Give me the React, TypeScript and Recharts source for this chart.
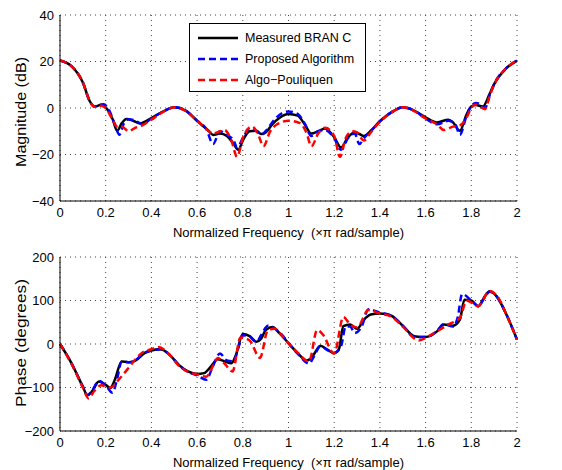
import { LineChart, Line, XAxis, YAxis, CartesianGrid } from "recharts";

// frequency ticks (x pi rad/sample)
const freqTicks = [0, 0.2, 0.4, 0.6, 0.8, 1, 1.2, 1.4, 1.6, 1.8, 2];
const magTicks = [-40, -20, 0, 20, 40];
const phaseTicks = [-200, -100, 0, 100, 200];

// magnitude (dB) — [freq, value]
const magMeasured: [number, number][] = [
  [0, 20.4], [0.05, 18], [0.1, 11], [0.13, 3], [0.15, 0.5], [0.18, 1.4], [0.2, 0.3], [0.23, -4.7],
  [0.25, -9.8], [0.27, -6.6], [0.29, -4.7], [0.32, -5.5], [0.35, -6.6], [0.4, -4.3], [0.45, -1.6],
  [0.5, 0.3], [0.55, -1.1], [0.6, -5.5], [0.65, -9.8], [0.67, -11.6], [0.7, -11], [0.73, -12],
  [0.76, -15.5], [0.78, -18], [0.8, -14], [0.83, -10], [0.86, -9.8], [0.88, -11.2], [0.9, -10.5],
  [0.93, -6.9], [0.96, -4.3], [1.0, -2.6], [1.04, -3.3], [1.07, -6.9], [1.1, -11], [1.13, -10],
  [1.16, -8.8], [1.2, -12.6], [1.23, -17], [1.26, -12.6], [1.29, -10.5], [1.31, -11.2], [1.33, -12],
  [1.36, -9.8], [1.4, -5.7], [1.45, -1.9], [1.5, 0.3], [1.55, -1.1], [1.6, -4], [1.65, -6.2],
  [1.7, -5], [1.72, -6.2], [1.75, -9.8], [1.78, -2.6], [1.8, 0.6], [1.82, 1.3], [1.85, 0.6],
  [1.88, 6], [1.9, 10.3], [1.95, 16.8], [2, 20.4],
];
const magProposed: [number, number][] = [
  [0, 20.4], [0.05, 18], [0.1, 11], [0.13, 3], [0.15, 0.8], [0.19, 1.6], [0.21, 0], [0.24, -7],
  [0.26, -11.5], [0.28, -6.5], [0.3, -4.8], [0.33, -5.5], [0.36, -7], [0.4, -4.5], [0.45, -1.6],
  [0.5, 0.3], [0.55, -1.1], [0.6, -5.5], [0.64, -9], [0.67, -15.5], [0.7, -10], [0.73, -11.5],
  [0.76, -14], [0.775, -17], [0.8, -13], [0.83, -9], [0.86, -10], [0.88, -11.5], [0.9, -10],
  [0.93, -6], [0.96, -3], [1.0, -1.5], [1.04, -2.5], [1.07, -6.5], [1.1, -12], [1.13, -10],
  [1.16, -9.5], [1.2, -13], [1.23, -18], [1.26, -13], [1.29, -11], [1.31, -15.5], [1.33, -13],
  [1.36, -10], [1.4, -5.7], [1.45, -1.9], [1.5, 0.3], [1.55, -1.1], [1.6, -4.5], [1.65, -7],
  [1.7, -5.5], [1.73, -7], [1.75, -11.5], [1.78, -3], [1.8, 0.8], [1.82, 2.2], [1.84, 1.5],
  [1.86, 0], [1.88, 5.5], [1.9, 10.3], [1.95, 16.8], [2, 20.4],
];
const magPouliquen: [number, number][] = [
  [0, 20.4], [0.05, 18], [0.1, 11], [0.13, 3], [0.15, 0.5], [0.18, 1], [0.2, 0], [0.23, -5],
  [0.25, -8], [0.27, -8], [0.3, -10], [0.33, -8.5], [0.36, -7.5], [0.4, -5], [0.45, -1.8],
  [0.5, 0.3], [0.55, -1.3], [0.6, -5.5], [0.64, -9], [0.67, -11], [0.7, -10], [0.72, -9.5],
  [0.75, -14], [0.775, -21], [0.8, -13], [0.84, -8], [0.87, -12], [0.89, -16.5], [0.92, -10],
  [0.95, -7], [1.0, -5.5], [1.05, -6.5], [1.08, -11], [1.1, -16.5], [1.13, -11], [1.16, -8.5],
  [1.2, -12], [1.225, -21], [1.25, -13], [1.28, -10], [1.3, -10.5], [1.33, -14], [1.36, -10.5],
  [1.4, -6], [1.45, -2], [1.5, 0.3], [1.55, -1.3], [1.6, -4.5], [1.65, -7], [1.68, -9.5],
  [1.72, -8], [1.75, -7.5], [1.78, -4], [1.8, 0], [1.82, 1.5], [1.84, 0.5], [1.86, -0.5],
  [1.88, 5], [1.9, 10], [1.95, 16.8], [2, 20.4],
];

// phase (degrees) — [freq, value]
const phaseMeasured: [number, number][] = [
  [0, 0], [0.05, -44], [0.1, -98], [0.12, -118], [0.14, -109], [0.17, -86], [0.2, -94], [0.22, -101],
  [0.24, -82], [0.27, -40], [0.3, -42], [0.33, -38], [0.37, -21], [0.4, -15], [0.44, -12],
  [0.48, -25], [0.52, -48], [0.56, -63], [0.6, -69], [0.63, -67], [0.66, -52], [0.69, -35],
  [0.72, -40], [0.75, -44], [0.77, -25], [0.8, 23], [0.83, 18], [0.86, 5], [0.88, 12], [0.9, 32],
  [0.93, 39], [0.96, 25], [1.0, 2], [1.04, -21], [1.08, -38], [1.1, -32], [1.14, -4], [1.17, -13],
  [1.2, -21], [1.22, -13], [1.24, 41], [1.27, 45], [1.3, 35], [1.33, 56], [1.36, 68], [1.4, 70],
  [1.45, 65], [1.5, 42], [1.55, 18], [1.6, 16], [1.65, 29], [1.68, 45], [1.72, 42], [1.75, 56],
  [1.77, 102], [1.8, 100], [1.83, 87], [1.86, 110], [1.88, 121], [1.91, 110], [1.95, 72], [2, 10],
];
const phaseProposed: [number, number][] = [
  [0, 0], [0.05, -44], [0.1, -98], [0.12, -117], [0.14, -108], [0.17, -85], [0.2, -95], [0.23, -112],
  [0.25, -80], [0.27, -40], [0.3, -42], [0.33, -37], [0.37, -20], [0.4, -15], [0.44, -12],
  [0.48, -25], [0.52, -48], [0.56, -64], [0.6, -72], [0.64, -82], [0.67, -50], [0.7, -22],
  [0.73, -38], [0.76, -40], [0.78, -10], [0.8, 20], [0.83, 17], [0.86, 5], [0.88, 20], [0.91, 42],
  [0.94, 35], [0.97, 22], [1.0, 2], [1.04, -22], [1.09, -45], [1.11, -30], [1.14, -5], [1.17, -14],
  [1.2, -20], [1.23, -5], [1.25, 40], [1.27, 40], [1.29, 25], [1.32, 40], [1.35, 80], [1.4, 72],
  [1.45, 65], [1.5, 42], [1.55, 17], [1.6, 16], [1.65, 30], [1.68, 46], [1.72, 40], [1.74, 60],
  [1.76, 115], [1.8, 100], [1.83, 87], [1.86, 108], [1.88, 120], [1.91, 110], [1.95, 72], [2, 10],
];
const phasePouliquen: [number, number][] = [
  [0, 0], [0.05, -45], [0.1, -100], [0.125, -125], [0.15, -108], [0.18, -95], [0.22, -100],
  [0.26, -80], [0.3, -55], [0.33, -35], [0.36, -20], [0.4, -12], [0.43, -7], [0.48, -25],
  [0.52, -50], [0.56, -64], [0.6, -70], [0.64, -75], [0.67, -50], [0.69, -32], [0.72, -45],
  [0.755, -63], [0.79, 15], [0.83, 8], [0.875, -32], [0.91, 32], [0.94, 35], [0.97, 20], [1.0, 2],
  [1.04, -20], [1.09, -40], [1.125, 32], [1.15, 22], [1.2, -22], [1.24, 62], [1.27, 45], [1.3, 38],
  [1.35, 78], [1.4, 70], [1.45, 63], [1.5, 40], [1.57, 8], [1.62, 20], [1.7, 45], [1.75, 60],
  [1.78, 100], [1.83, 87], [1.88, 122], [1.92, 105], [1.95, 72], [2, 10],
];

const FONT = '"Liberation Sans", Arial, Helvetica, sans-serif';
const toPts = (arr: [number, number][]) => arr.map(([x, y]) => ({ x, y }));
const fmt = (v: number) => (v < 0 ? "\u2212" + Math.abs(v) : String(v));

const tickStyle = { fill: "#000", fontSize: 13, fontFamily: FONT };

function Panel({
  height,
  top,
  ticks,
  domain,
  series,
}: {
  height: number;
  top: number;
  ticks: number[];
  domain: [number, number];
  series: [number, number][][];
}) {
  const colors = ["#000000", "#0000ff", "#ff0000"];
  return (
    <LineChart width={562} height={height} margin={{ top, right: 45, bottom: 0, left: 0 }}>
      <CartesianGrid stroke="#444" strokeDasharray="1 4" />
      <XAxis
        dataKey="x"
        type="number"
        domain={[0, 2]}
        ticks={freqTicks}
        allowDuplicatedCategory={false}
        height={39}
        stroke="#000"
        tickSize={0}
        tickMargin={7}
        tick={tickStyle}
        label={{
          value: "Normalized Frequency \u00a0(\u00d7\u03c0 rad/sample)",
          position: "insideBottom",
          offset: 3,
          style: { fill: "#000", fontSize: 13, fontFamily: FONT },
        }}
      />
      <XAxis xAxisId="top" orientation="top" dataKey="x" type="number" domain={[0, 2]} height={0} tick={false} stroke="#000" />
      <YAxis
        type="number"
        domain={domain}
        ticks={ticks}
        width={60}
        stroke="#000"
        tickSize={0}
        tickMargin={6}
        tick={tickStyle}
        tickFormatter={fmt}
      />
      <YAxis yAxisId="right" orientation="right" width={0} tick={false} stroke="#000" domain={domain} />
      {series.map((s, i) => (
        <Line
          key={i}
          data={toPts(s)}
          dataKey="y"
          type="monotone"
          stroke={colors[i]}
          strokeWidth={2.5}
          strokeDasharray={i === 0 ? undefined : "7 4"}
          dot={false}
          isAnimationActive={false}
        />
      ))}
    </LineChart>
  );
}

const legendItems = [
  { name: "Measured BRAN C", color: "#000000", dash: undefined },
  { name: "Proposed Algorithm", color: "#0000ff", dash: "7 4" },
  { name: "Algo\u2212Pouliquen", color: "#ff0000", dash: "7 4" },
];

export default function App() {
  return (
    <div style={{ position: "absolute", left: 0, top: 0, width: 562, height: 470, background: "#fff", fontFamily: FONT }}>
      <div style={{ position: "absolute", left: 0, top: 0 }}>
        <Panel height={240} top={15} ticks={magTicks} domain={[-40, 40]} series={[magMeasured, magProposed, magPouliquen]} />
      </div>
      <div style={{ position: "absolute", left: 0, top: 240 }}>
        <Panel height={230} top={17} ticks={phaseTicks} domain={[-200, 200]} series={[phaseMeasured, phaseProposed, phasePouliquen]} />
      </div>
      {/* y-axis titles (stretched like the original figure) */}
      <svg width={40} height={470} style={{ position: "absolute", left: 0, top: 0 }}>
        <text
          transform="translate(26,112) rotate(-90)"
          textAnchor="middle"
          fontSize={14}
          fontFamily={FONT}
          textLength={110}
          lengthAdjust="spacingAndGlyphs"
        >
          Magnitude (dB)
        </text>
        <text
          transform="translate(26,343) rotate(-90)"
          textAnchor="middle"
          fontSize={14}
          fontFamily={FONT}
          textLength={128}
          lengthAdjust="spacingAndGlyphs"
        >
          Phase (degrees)
        </text>
      </svg>
      <div
        style={{
          position: "absolute",
          left: 189,
          top: 23,
          width: 175,
          height: 67,
          border: "1px solid #000",
          background: "#fff",
        }}
      >
        {legendItems.map((it, i) => (
          <div key={it.name} style={{ position: "absolute", left: 8, top: 5 + i * 21, height: 18, display: "flex", alignItems: "center" }}>
            <svg width={40} height={10}>
              <line x1={0} y1={5} x2={40} y2={5} stroke={it.color} strokeWidth={2.5} strokeDasharray={it.dash} />
            </svg>
            <span style={{ marginLeft: 7, fontSize: 12.5, color: "#000", whiteSpace: "nowrap" }}>{it.name}</span>
          </div>
        ))}
      </div>
    </div>
  );
}
